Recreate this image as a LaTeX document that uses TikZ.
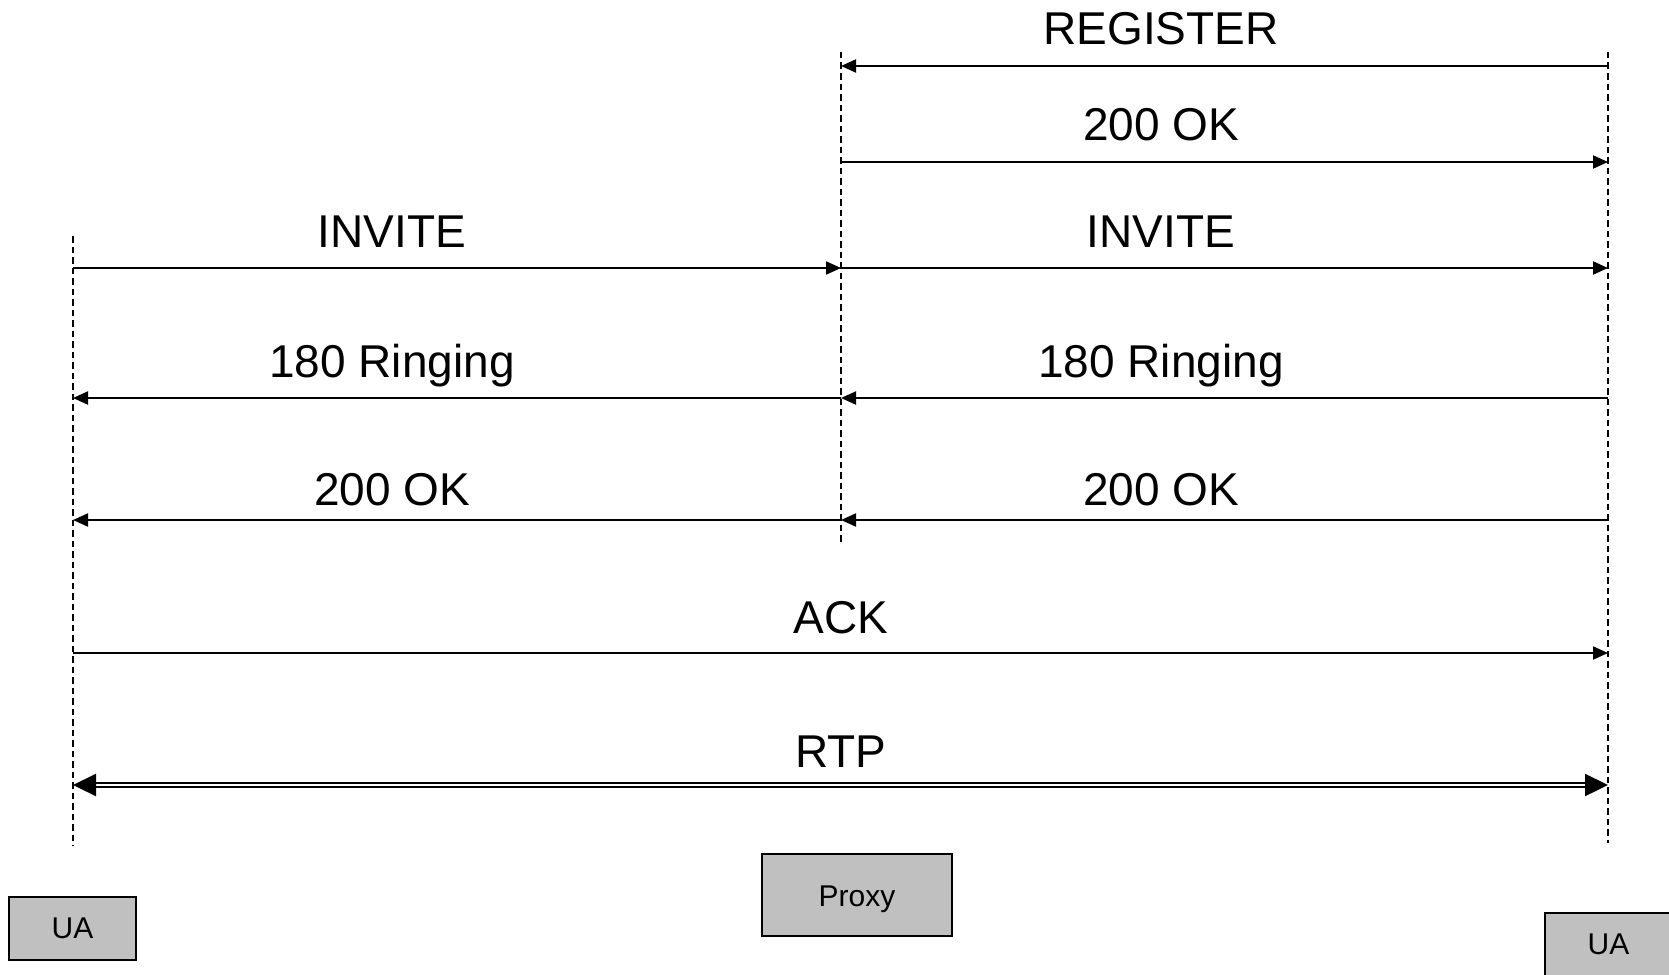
\documentclass[tikz,border=0pt]{standalone}
\usepackage{fontspec}
\setmainfont{Liberation Sans}
\usetikzlibrary{arrows.meta}
\definecolor{boxgray}{RGB}{192,192,192}
\tikzset{
  lifeline/.style={line width=2pt, dash pattern=on 6.5pt off 4pt},
  msg/.style={line width=2pt, -{Triangle[length=15pt,width=13pt]}},
  stream/.style={line width=2.2pt, double, double distance=2.5pt,
    {Triangle[length=23pt,width=22pt]}-{Triangle[length=23pt,width=22pt]}},
  msglabel/.style={anchor=base, inner sep=0pt, font=\fontsize{46}{55}\selectfont},
  entity/.style={draw, line width=2pt, fill=boxgray, inner sep=0pt,
    font=\fontsize{30}{36}\selectfont},
}
\begin{document}
\begin{tikzpicture}[x=1pt, y=-1pt]
\useasboundingbox (0,0) rectangle (1669,974);
\clip (0,0) rectangle (1669,974);

% participants
\node[entity, minimum width=127pt, minimum height=63pt] (uaA) at (72.5,928.5) {UA};
\node[entity, minimum width=190pt, minimum height=82pt] (proxy) at (857,895) {};
\node[inner sep=0pt, font=\fontsize{30}{36}\selectfont] (proxyText) at (857,899) {Proxy};
\node[entity, minimum width=127pt, minimum height=63pt] (uaB) at (1608.5,944.5) {UA};

% lifelines
\coordinate (aTop) at (73,236);   \coordinate (aBot) at (73,846);
\coordinate (pTop) at (841,52);   \coordinate (pBot) at (841,545);
\coordinate (bTop) at (1608,52);  \coordinate (bBot) at (1608,843);
\draw[lifeline] (aTop) -- (aBot);
\draw[lifeline] (pTop) -- (pBot);
\draw[lifeline] (bTop) -- (bBot);

% message end points on the lifelines
\foreach \n/\y in {reg/66, ok1/162, inv/268, ring/398, ok2/520, ack/653, rtp/785} {
  \coordinate (a-\n) at (73,\y);
  \coordinate (p-\n) at (841,\y);
  \coordinate (b-\n) at (1608,\y);
}

% registration
\draw[msg] (b-reg) -- (p-reg);
\node[msglabel] (lreg) at (1161,45) {REGISTER};
\draw[msg] (p-ok1) -- (b-ok1);
\node[msglabel] (lok1) at (1161,140) {200 OK};

% call set-up
\draw[msg] (a-inv) -- (p-inv);
\draw[msg] (p-inv) -- (b-inv);
\node[msglabel] (linvA) at (392,247) {INVITE};
\node[msglabel] (linvB) at (1161,247) {INVITE};

\draw[msg] (b-ring) -- (p-ring);
\draw[msg] (p-ring) -- (a-ring);
\node[msglabel] (lringA) at (392,377) {180 Ringing};
\node[msglabel] (lringB) at (1161,377) {180 Ringing};

\draw[msg] (b-ok2) -- (p-ok2);
\draw[msg] (p-ok2) -- (a-ok2);
\node[msglabel] (lok2A) at (392,505) {200 OK};
\node[msglabel] (lok2B) at (1161,505) {200 OK};

\draw[msg] (a-ack) -- (b-ack);
\node[msglabel] (lack) at (841,633) {ACK};

% media stream
\draw[stream] (a-rtp) -- (b-rtp);
\node[msglabel] (lrtp) at (841,767) {RTP};
\end{tikzpicture}
\end{document}
